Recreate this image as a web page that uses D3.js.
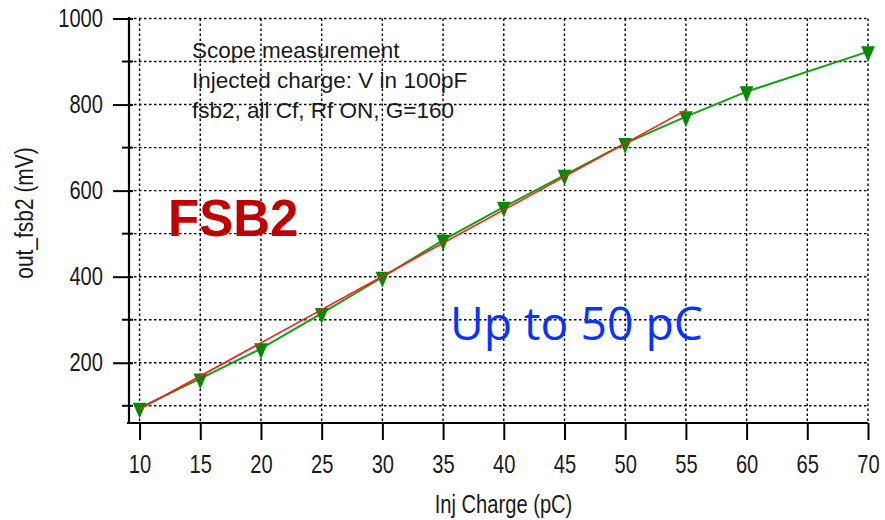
<!DOCTYPE html>
<html>
<head>
<meta charset="utf-8">
<script src="https://cdn.jsdelivr.net/npm/d3@7"></script>
<style>
  body { margin: 0; background: #fff; }
  svg { display: block; }
</style>
</head>
<body>
<div id="chart"></div>
<script>
// measured points (green) and the linear fit up to 55 pC (red)
var charge = [10, 15, 20, 25, 30, 35, 40, 45, 50, 55, 60, 70];
var outMv  = [95, 163, 233, 315, 399, 485, 562, 636, 710, 772, 830, 923];
var fitCharge = [10, 55];
var fitMv     = [92, 787];

var xTicks = [10, 15, 20, 25, 30, 35, 40, 45, 50, 55, 60, 65, 70];
var yLabelTicks = [200, 400, 600, 800, 1000];
var yMinorTicks = [100, 300, 500, 700, 900];
var yGrid = [100, 200, 300, 400, 500, 600, 700, 800, 900, 1000];

var noteLines = ["Scope measurement",
		 "Injected charge: V in 100pF",
		 "fsb2, all Cf, Rf ON, G=160"];

var W = 885, H = 520;
var margin = {top: 18.5, right: 17, bottom: 97, left: 129};
var width  = W - margin.left - margin.right;
var height = H - margin.top - margin.bottom;

var narrow = 0.79;   // tick labels look like Arial Narrow
var labelFont = "'Liberation Sans', Arial, sans-serif";

var svg = d3.select("#chart")
    .append("svg")
    .attr("width", W)
    .attr("height", H);

var g = svg.append("g")
    .attr("transform", "translate(" + margin.left + "," + margin.top + ")");

var x = d3.scaleLinear()
    .domain([9.13, 70])
    .range([0, width]);

var y = d3.scaleLinear()
    .domain([60, 1000])
    .range([height, 0]);

// dotted grid
g.selectAll(".hgrid")
    .data(yGrid)
    .enter()
    .append("line")
    .attr("class", "hgrid")
    .attr("x1", 0)
    .attr("x2", width)
    .attr("y1", d => y(d))
    .attr("y2", d => y(d));

g.selectAll(".vgrid")
    .data(xTicks)
    .enter()
    .append("line")
    .attr("class", "vgrid")
    .attr("x1", d => x(d))
    .attr("x2", d => x(d))
    .attr("y1", 0)
    .attr("y2", height);

g.selectAll(".hgrid, .vgrid")
    .attr("stroke", "#000")
    .attr("stroke-width", 1.4)
    .attr("stroke-dasharray", "2.5,2.5");

// notes in the upper left
g.append("text")
    .attr("font-family", labelFont)
    .attr("font-size", 22.5)
    .attr("fill", "#1a1a1a")
    .selectAll("tspan")
    .data(noteLines)
    .enter()
    .append("tspan")
    .attr("x", 192 - margin.left)
    .attr("y", (d, i) => 58 - margin.top + i * 30)
    .text(d => d);

// x axis
var xAxis = g.append("g")
    .attr("transform", "translate(0," + height + ")")
    .call(d3.axisBottom(x)
	  .tickValues(xTicks)
	  .tickFormat(d3.format("d"))
	  .tickSize(17)
	  .tickSizeOuter(0)
	  .tickPadding(15));

xAxis.select(".domain")
    .attr("stroke-width", 2.2)
    .attr("d", "M-2,0H" + width);
xAxis.selectAll(".tick line").attr("stroke-width", 2);
xAxis.selectAll(".tick text")
    .attr("font-family", labelFont)
    .attr("font-size", 25.5)
    .attr("fill", "#1a1a1a")
    .attr("transform", "scale(" + narrow + ",1)");

// y axis
var yAxis = g.append("g")
    .call(d3.axisLeft(y)
	  .tickValues(yLabelTicks)
	  .tickFormat(d3.format("d"))
	  .tickSize(16)
	  .tickSizeOuter(0)
	  .tickPadding(10));

yAxis.select(".domain")
    .attr("stroke-width", 2.2)
    .attr("d", "M0,-1.5V" + height);
yAxis.selectAll(".tick line")
    .attr("stroke-width", 2)
    .attr("x1", 4);
yAxis.selectAll(".tick text")
    .attr("font-family", labelFont)
    .attr("font-size", 25.5)
    .attr("fill", "#1a1a1a")
    .attr("x", -26 / narrow)
    .attr("transform", "scale(" + narrow + ",1)");

g.selectAll(".minor")
    .data(yMinorTicks)
    .enter()
    .append("line")
    .attr("class", "minor")
    .attr("x1", -7)
    .attr("x2", 4)
    .attr("y1", d => y(d))
    .attr("y2", d => y(d))
    .attr("stroke", "#000")
    .attr("stroke-width", 2);

// axis titles
svg.append("text")
    .attr("transform", "translate(" + (margin.left + width / 2 + 5) + ",513) scale(" + narrow + ",1)")
    .attr("text-anchor", "middle")
    .attr("font-family", labelFont)
    .attr("font-size", 25.5)
    .attr("fill", "#1a1a1a")
    .text("Inj Charge (pC)");

svg.append("text")
    .attr("transform", "translate(33,213) rotate(-90) scale(" + narrow + ",1)")
    .attr("text-anchor", "middle")
    .attr("font-family", labelFont)
    .attr("font-size", 26.5)
    .attr("fill", "#1a1a1a")
    .text("out_fsb2 (mV)");

// measured curve
var line = d3.line()
    .x(d => x(d[0]))
    .y(d => y(d[1]));

var pts = charge.map((c, i) => [c, outMv[i]]);
var fit = fitCharge.map((c, i) => [c, fitMv[i]]);

g.append("path")
    .datum(pts)
    .attr("d", line)
    .attr("fill", "none")
    .attr("stroke", "#13a013")
    .attr("stroke-width", 2);

var tri = d3.symbol().type(d3.symbolTriangle).size(80);

g.selectAll(".marker")
    .data(pts)
    .enter()
    .append("path")
    .attr("class", "marker")
    .attr("d", tri)
    .attr("transform", d => "translate(" + x(d[0]) + "," + y(d[1]) + ") rotate(180) scale(1,1.35)")
    .attr("fill", "#008a00");

g.append("path")
    .datum(fit)
    .attr("d", line)
    .attr("fill", "none")
    .attr("stroke", "#ff1a1a")
    .attr("stroke-width", 1.6);

// slide annotations
svg.append("text")
    .attr("x", 168)
    .attr("y", 236)
    .attr("font-family", labelFont)
    .attr("font-weight", "bold")
    .attr("font-size", 51)
    .attr("fill", "#c00000")
    .text("FSB2");

svg.append("text")
    .attr("x", 450)
    .attr("y", 340)
    .attr("font-family", "'Open Sans', sans-serif")
    .attr("font-size", 46.3)
    .attr("fill", "#0a33ff")
    .text("Up to 50 pC");
</script>
</body>
</html>
